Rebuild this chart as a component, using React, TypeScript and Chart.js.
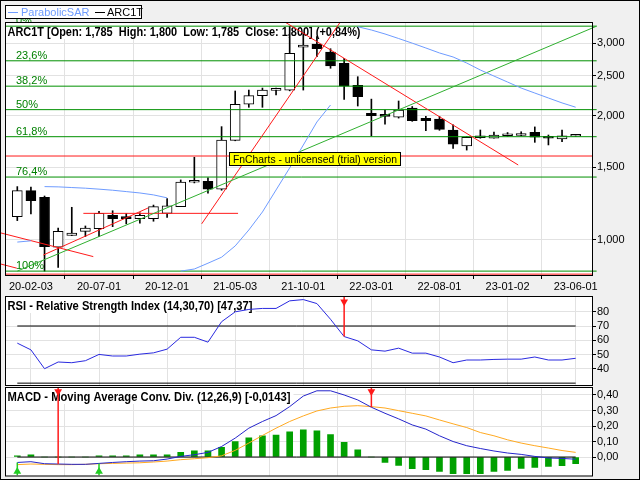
import React, { useEffect, useRef } from "react";
import { Chart, registerables } from "chart.js";
Chart.register(...registerables);

const FONT = '"Liberation Sans", Arial, Helvetica, sans-serif';

// ---------- data ----------
const TICK_INDEX = [1, 6, 11, 16, 21, 26, 31, 36, 41];
const TICK_LABELS = ["20-02-03", "20-07-01", "20-12-01", "21-05-03", "21-10-01", "22-03-01", "22-08-01", "23-01-02", "23-06-01"];

const OPEN = [1139, 1317, 1269, 960, 1026, 1049, 1065, 1147, 1140, 1126, 1126, 1160, 1204, 1380, 1387, 1328, 1744, 2134, 2239, 2305, 2310, 2934, 2988, 2858, 2683, 2373, 2029, 2010, 1984, 2088, 1973, 1965, 1848, 1690, 1770, 1765, 1790, 1792, 1825, 1785, 1759, 1785];
const HIGH = [1347, 1343, 1278, 1069, 1200, 1081, 1173, 1177, 1160, 1164, 1215, 1259, 1398, 1587, 1415, 1883, 2298, 2310, 2336, 2336, 3300, 3178, 3113, 2910, 2759, 2489, 2196, 2067, 2173, 2107, 1995, 1995, 1902, 1779, 1848, 1826, 1822, 1830, 1880, 1797, 1848, 1800];
const LOW = [1114, 1156, 840, 858, 1024, 1019, 1019, 1077, 1094, 1098, 1110, 1134, 1204, 1375, 1298, 1320, 1740, 2098, 2098, 2247, 2300, 2310, 2784, 2609, 2192, 2113, 1788, 1909, 1975, 1940, 1841, 1845, 1668, 1652, 1765, 1765, 1785, 1790, 1725, 1700, 1731, 1785];
const CLOSE = [1317, 1245, 963, 1049, 1039, 1069, 1160, 1126, 1126, 1147, 1204, 1209, 1382, 1384, 1328, 1748, 2134, 2239, 2310, 2315, 2837, 2972, 2910, 2643, 2362, 2225, 2003, 1995, 2067, 1946, 1946, 1855, 1707, 1775, 1775, 1797, 1795, 1808, 1775, 1765, 1788, 1800];

const SAR = [988, 995, 1347, 1345, 1340, 1335, 1328, 1320, 1310, 1300, 1286, 1265, 840, 850, 878, 908, 967, 1057, 1169, 1322, 1495, 1699, 1933, 2125, null, 3291, 3231, 3160, 3081, 3002, 2922, 2842, 2779, 2687, 2584, 2498, 2416, 2336, 2272, 2210, 2150, 2099];
const SAR_SEGMENT_STARTS = [0, 2, 12, 25];

const RSI = [58, 53.3, 40.1, 44.8, 44.3, 45.7, 50.1, 49, 49, 50.3, 51.2, 53.8, 62.1, 62.1, 58.7, 73, 79.9, 81.6, 82.3, 82.3, 87.6, 88.5, 85.7, 74.7, 62.6, 59.6, 53.3, 52.4, 54.5, 51, 51, 48.3, 44.3, 46.2, 46.2, 46.6, 46.8, 46.8, 48.3, 46.2, 46.2, 47.4];

const MACD = [-0.035, -0.03, -0.043, -0.045, -0.047, -0.047, -0.041, -0.035, -0.03, -0.026, -0.024, -0.013, 0.004, 0.015, 0.03, 0.068, 0.122, 0.186, 0.229, 0.267, 0.325, 0.393, 0.427, 0.427, 0.4, 0.368, 0.321, 0.282, 0.246, 0.207, 0.18, 0.137, 0.1, 0.073, 0.055, 0.039, 0.026, 0.017, 0.004, -0.006, -0.009, -0.014];
const SIGNAL = [-0.049, -0.045, -0.047, -0.049, -0.049, -0.047, -0.043, -0.041, -0.039, -0.037, -0.032, -0.026, -0.017, -0.011, -0.004, 0.008, 0.043, 0.09, 0.139, 0.186, 0.229, 0.265, 0.297, 0.316, 0.327, 0.331, 0.325, 0.316, 0.299, 0.282, 0.265, 0.239, 0.214, 0.19, 0.158, 0.137, 0.111, 0.09, 0.073, 0.058, 0.042, 0.03];
const HIST = [0.008, 0.015, 0, 0, 0, 0, 0.008, 0.008, 0.008, 0.015, 0.015, 0.015, 0.03, 0.04, 0.04, 0.062, 0.1, 0.124, 0.137, 0.141, 0.162, 0.175, 0.169, 0.145, 0.094, 0.047, 0, -0.035, -0.054, -0.075, -0.081, -0.092, -0.107, -0.107, -0.107, -0.092, -0.086, -0.073, -0.067, -0.06, -0.056, -0.043];

const PRICE_TICKS = [1000, 1500, 2000, 2500, 3000];
const RSI_TICKS = [40, 50, 60, 70, 80];
const MACD_TICKS = [0, 0.1, 0.2, 0.3, 0.4];

const FIB_HIGH = 3301;
const FIB_LOW = 840;
const FIB_RATIOS = [0, 0.236, 0.382, 0.5, 0.618, 0.764, 1];
const FIB_LABELS = ["0%", "23,6%", "38,2%", "50%", "61,8%", "76,4%", "100%"];

// drawn trend lines: [x1, price1, x2, price2]
const GREEN_TRENDS = [[0, 840, 42.54, 3301]];
const RED_TRENDS = [
  [-1.27, 1041, 5.58, 911],
  [-1.27, 875, -0.04, 854],
  [1.91, 919, 9.62, 1196],
  [4.85, 1160, 16.21, 1160],
  [13.54, 1094, 23.72, 3379],
  [19.65, 3379, 36.78, 1520],
];
const RED_LEVELS = [1598, 826];

const RSI_LEVELS = [70, 30];
const RSI_SELL = [24];
const RSI_MARK = 87;
const MACD_SELL = [3, 26];
const MACD_BUY = [0, 6];
const MACD_SELL_MARK = 0.423;
const MACD_BUY_MARK = -0.094;

const TITLE_MAIN = "ARC1T [Open: 1,785  High: 1,800  Low: 1,785  Close: 1,800] (+0,84%)";
const TITLE_RSI = "RSI - Relative Strength Index (14,30,70) [47,37]";
const TITLE_MACD = "MACD - Moving Average Conv. Div. (12,26,9) [-0,0143]";
const WATERMARK = "FnCharts - unlicensed (trial) version";

// axis ranges
const X_MIN = -0.83;
const X_MAX = 42.2;
const FIB_X_END = 42.54;
const PRICE_MIN = 822;
const PRICE_MAX = 3360;
const RSI_MIN = 28.7;
const RSI_MAX = 90.3;
const MACD_MIN = -0.119;
const MACD_MAX = 0.445;

// ---------- styles ----------
const GRID = "#e2e2e2";
const SAR_COLOR = "#6f9cff";
const FIB_COLOR = "#009000";
const TREND_GREEN = "#30b030";
const RED = "#ff1a1a";

const IDX = OPEN.map((_, i) => i);

function xAxis(showLabels: boolean, height: number) {
  return {
    type: "linear",
    min: X_MIN,
    max: X_MAX,
    offset: false,
    afterBuildTicks: (s: any) => {
      s.ticks = TICK_INDEX.map((v) => ({ value: v }));
    },
    ticks: showLabels
      ? {
          callback: (_v: any, i: number) => TICK_LABELS[i],
          font: { family: FONT, size: 11 },
          color: "#000",
          maxRotation: 0,
          autoSkip: false,
          padding: 1,
        }
      : { display: false },
    grid: showLabels
      ? { color: GRID, tickColor: "#000", tickLength: 4 }
      : { color: GRID, drawTicks: false },
    border: { display: false },
    afterFit: (s: any) => {
      s.height = height;
      s.paddingLeft = 0;
      s.paddingRight = 0;
    },
  };
}

function yAxis(type: string, min: number, max: number, ticks: number[], fmt: (v: number) => string) {
  return {
    type,
    position: "right",
    min,
    max,
    afterBuildTicks: (s: any) => {
      s.ticks = ticks.map((v) => ({ value: v }));
    },
    ticks: {
      callback: (v: any) => fmt(Number(v)),
      font: { family: FONT, size: 11 },
      color: "#000",
      padding: 1,
      autoSkip: false,
    },
    grid: { color: GRID, tickColor: "#000", tickLength: 4 },
    border: { display: false },
    afterFit: (s: any) => {
      s.width = 48;
      s.paddingTop = 0;
      s.paddingBottom = 0;
    },
  };
}

function drawTitle(ctx: CanvasRenderingContext2D, text: string, x: number, baseline: number, width: number, top: number) {
  ctx.save();
  ctx.fillStyle = "#fff";
  ctx.fillRect(x - 1, top, width + 4, baseline - top + 3);
  ctx.font = "bold 12px " + FONT;
  const w = ctx.measureText(text).width;
  ctx.translate(x, baseline);
  ctx.scale(width / w, 1);
  ctx.fillStyle = "#000";
  ctx.textBaseline = "alphabetic";
  ctx.fillText(text, 0, 0);
  ctx.restore();
}

function panelPlugin(title: string, titleWidth: number, baseline: number, extra: any = {}) {
  return {
    id: "panel",
    beforeDraw(chart: any) {
      const { ctx, chartArea: a } = chart;
      ctx.save();
      ctx.fillStyle = "#fff";
      ctx.fillRect(a.left, a.top, a.right - a.left, a.bottom - a.top);
      ctx.restore();
    },
    beforeDatasetsDraw(chart: any) {
      const { ctx, chartArea: a } = chart;
      if (extra.before) extra.before(chart);
      drawTitle(ctx, title, 7.5, baseline, titleWidth, a.top);
    },
    afterDatasetsDraw(chart: any) {
      if (extra.after) extra.after(chart);
    },
    afterDraw(chart: any) {
      const { ctx, chartArea: a } = chart;
      ctx.save();
      ctx.strokeStyle = "#000";
      ctx.lineWidth = 1;
      ctx.strokeRect(a.left - 0.5, a.top - 0.5, a.right - a.left + 1, a.bottom - a.top + 1);
      ctx.restore();
    },
  };
}

function lineDs(points: { x: number; y: number }[], color: string, order: number, extra: any = {}) {
  return {
    type: "line",
    data: points,
    borderColor: color,
    backgroundColor: color,
    borderWidth: 1,
    pointRadius: 0,
    order,
    ...extra,
  };
}

function mainConfig(): any {
  const fibLevels = FIB_RATIOS.map((r) => FIB_HIGH - r * (FIB_HIGH - FIB_LOW));
  const datasets: any[] = [];
  fibLevels.forEach((lv) =>
    datasets.push(
      lineDs([{ x: X_MIN, y: lv }, { x: FIB_X_END, y: lv }], FIB_COLOR, 5, {
        clip: { left: 0, top: 2, right: 6, bottom: 2 },
      })
    )
  );
  RED_LEVELS.forEach((lv) => datasets.push(lineDs([{ x: X_MIN, y: lv }, { x: X_MAX, y: lv }], RED, 4)));
  GREEN_TRENDS.forEach((t) =>
    datasets.push(
      lineDs([{ x: t[0], y: t[1] }, { x: t[2], y: t[3] }], TREND_GREEN, 4, {
        clip: { left: 8, top: 2, right: 6, bottom: 0 },
      })
    )
  );
  RED_TRENDS.forEach((t) =>
    datasets.push(
      lineDs([{ x: t[0], y: t[1] }, { x: t[2], y: t[3] }], RED, 4, {
        clip: { left: 8, top: 0, right: 6, bottom: 0 },
      })
    )
  );
  datasets.push(
    lineDs(
      SAR.map((v, i) => ({ x: i, y: v })),
      SAR_COLOR,
      3,
      {
        spanGaps: false,
        segment: {
          borderColor: (c: any) =>
            SAR_SEGMENT_STARTS.includes(c.p1DataIndex) ? "rgba(0,0,0,0)" : SAR_COLOR,
        },
      }
    )
  );
  // candle wicks
  datasets.push({
    type: "bar",
    data: IDX.map((i) => ({ x: i, y: [LOW[i], HIGH[i]] })),
    backgroundColor: "#000",
    borderWidth: 0,
    barThickness: 1,
    grouped: false,
    order: 11,
  });
  // candle bodies
  datasets.push({
    type: "bar",
    data: IDX.map((i) => ({ x: i, y: [Math.min(OPEN[i], CLOSE[i]), Math.max(OPEN[i], CLOSE[i])] })),
    backgroundColor: IDX.map((i) => (CLOSE[i] >= OPEN[i] ? "#fff" : "#000")),
    borderColor: "#000",
    borderWidth: 1,
    borderSkipped: false,
    barThickness: 10,
    minBarLength: 2,
    grouped: false,
    order: 10,
  });

  const plugin = panelPlugin(TITLE_MAIN, 353, 36, {
    before(chart: any) {
      const { ctx } = chart;
      const y = chart.scales.y;
      ctx.save();
      ctx.font = "11px " + FONT;
      ctx.fillStyle = "#008000";
      ctx.textBaseline = "alphabetic";
      fibLevels.forEach((lv, k) => {
        ctx.fillText(FIB_LABELS[k], 16, y.getPixelForValue(lv) - 2);
      });
      ctx.restore();
    },
    after(chart: any) {
      const { ctx } = chart;
      ctx.save();
      ctx.fillStyle = "#ffff00";
      ctx.fillRect(229, 152, 172, 14);
      ctx.strokeStyle = "#000";
      ctx.lineWidth = 1;
      ctx.strokeRect(229.5, 152.5, 171, 13);
      ctx.font = "11px " + FONT;
      const w = ctx.measureText(WATERMARK).width;
      ctx.translate(233, 163);
      ctx.scale(164 / w, 1);
      ctx.fillStyle = "#000";
      ctx.fillText(WATERMARK, 0, 0);
      ctx.restore();
    },
  });

  return {
    type: "line",
    data: { datasets },
    options: {
      responsive: false,
      animation: false,
      events: [],
      layout: { padding: { left: 6, top: 23, right: 0, bottom: 480 - 275 - 17 } },
      plugins: { legend: { display: false }, tooltip: { enabled: false } },
      scales: {
        x: xAxis(true, 17),
        y: yAxis("logarithmic", PRICE_MIN, PRICE_MAX, PRICE_TICKS, (v) => v.toLocaleString("en-US")),
      },
    },
    plugins: [plugin],
  };
}

function rsiConfig(): any {
  const datasets: any[] = [];
  RSI_LEVELS.forEach((lv) => datasets.push(lineDs([{ x: 0, y: lv }, { x: 41, y: lv }], "#000", 5)));
  datasets.push(lineDs(RSI.map((v, i) => ({ x: i, y: v })), "#2a2ae0", 3));
  RSI_SELL.forEach((i) => {
    datasets.push(lineDs([{ x: i, y: RSI_MAX }, { x: i, y: RSI[i] }], RED, 2, { borderWidth: 1.5 }));
    datasets.push({
      type: "line",
      data: [{ x: i, y: RSI_MARK }],
      showLine: false,
      pointStyle: "triangle",
      rotation: 180,
      pointRadius: 4.5,
      pointBackgroundColor: RED,
      pointBorderColor: RED,
      pointBorderWidth: 0,
      order: 1,
      clip: false,
    });
  });
  return {
    type: "line",
    data: { datasets },
    options: {
      responsive: false,
      animation: false,
      events: [],
      layout: { padding: { left: 6, top: 297, right: 0, bottom: 480 - 385 } },
      plugins: { legend: { display: false }, tooltip: { enabled: false } },
      scales: {
        x: xAxis(false, 0),
        y: yAxis("linear", RSI_MIN, RSI_MAX, RSI_TICKS, (v) => String(v)),
      },
    },
    plugins: [panelPlugin(TITLE_RSI, 245, 310)],
  };
}

function macdConfig(): any {
  const datasets: any[] = [];
  datasets.push({
    type: "bar",
    data: IDX.map((i) => ({ x: i, y: HIST[i] })),
    backgroundColor: "#00a000",
    borderWidth: 0,
    barThickness: 6,
    grouped: false,
    order: 10,
  });
  datasets.push(lineDs([{ x: 0, y: 0 }, { x: 41, y: 0 }], "#000", 6));
  datasets.push(lineDs(SIGNAL.map((v, i) => ({ x: i, y: v })), "#ffaa22", 4));
  datasets.push(lineDs(MACD.map((v, i) => ({ x: i, y: v })), "#2626cc", 3));
  MACD_SELL.forEach((i) => {
    datasets.push(lineDs([{ x: i, y: MACD_MAX }, { x: i, y: MACD[i] }], RED, 2, { borderWidth: 1.5 }));
    datasets.push({
      type: "line",
      data: [{ x: i, y: MACD_SELL_MARK }],
      showLine: false,
      pointStyle: "triangle",
      rotation: 180,
      pointRadius: 4.5,
      pointBackgroundColor: RED,
      pointBorderWidth: 0,
      order: 1,
      clip: false,
    });
  });
  MACD_BUY.forEach((i) => {
    datasets.push(lineDs([{ x: i, y: MACD_MIN }, { x: i, y: MACD[i] }], "#22cc22", 2, { borderWidth: 1.5 }));
    datasets.push({
      type: "line",
      data: [{ x: i, y: MACD_BUY_MARK }],
      showLine: false,
      pointStyle: "triangle",
      rotation: 0,
      pointRadius: 4.5,
      pointBackgroundColor: "#22cc22",
      pointBorderWidth: 0,
      order: 1,
      clip: false,
    });
  });
  return {
    type: "line",
    data: { datasets },
    options: {
      responsive: false,
      animation: false,
      events: [],
      layout: { padding: { left: 6, top: 388, right: 0, bottom: 480 - 476 } },
      plugins: { legend: { display: false }, tooltip: { enabled: false } },
      scales: {
        x: xAxis(false, 0),
        y: yAxis("linear", MACD_MIN, MACD_MAX, MACD_TICKS, (v) => v.toFixed(2).replace(".", ",")),
      },
    },
    plugins: [panelPlugin(TITLE_MACD, 283, 401)],
  };
}

export default function App() {
  const mainRef = useRef<HTMLCanvasElement>(null);
  const rsiRef = useRef<HTMLCanvasElement>(null);
  const macdRef = useRef<HTMLCanvasElement>(null);

  useEffect(() => {
    const charts = [
      new Chart(mainRef.current as HTMLCanvasElement, mainConfig()),
      new Chart(rsiRef.current as HTMLCanvasElement, rsiConfig()),
      new Chart(macdRef.current as HTMLCanvasElement, macdConfig()),
    ];
    return () => charts.forEach((c) => c.destroy());
  }, []);

  const canvasStyle: React.CSSProperties = { position: "absolute", left: 0, top: 0, width: 640, height: 480 };

  return (
    <div
      style={{
        position: "fixed",
        left: 0,
        top: 0,
        width: 640,
        height: 480,
        background: "#f0f0f0",
        overflow: "hidden",
        fontFamily: FONT,
      }}
    >
      <canvas ref={mainRef} width={640} height={480} style={canvasStyle} />
      <canvas ref={rsiRef} width={640} height={480} style={canvasStyle} />
      <canvas ref={macdRef} width={640} height={480} style={canvasStyle} />
      <div
        style={{
          position: "absolute",
          left: 5,
          top: 5,
          width: 137,
          height: 14,
          boxSizing: "border-box",
          background: "#fff",
          border: "1px solid #000",
          fontSize: 11,
          lineHeight: "12px",
        }}
      >
        <div style={{ position: "absolute", left: 2, top: 6, width: 10, height: 1, background: SAR_COLOR }} />
        <span style={{ position: "absolute", left: 15, top: 0, color: SAR_COLOR, whiteSpace: "nowrap" }}>ParabolicSAR</span>
        <div style={{ position: "absolute", left: 89, top: 6, width: 10, height: 1, background: "#000" }} />
        <span style={{ position: "absolute", left: 101, top: 0, color: "#000", whiteSpace: "nowrap" }}>ARC1T</span>
      </div>
      <div
        style={{
          position: "absolute",
          left: 0,
          top: 0,
          width: 640,
          height: 480,
          boxSizing: "border-box",
          border: "1px solid #000",
          pointerEvents: "none",
        }}
      />
    </div>
  );
}
